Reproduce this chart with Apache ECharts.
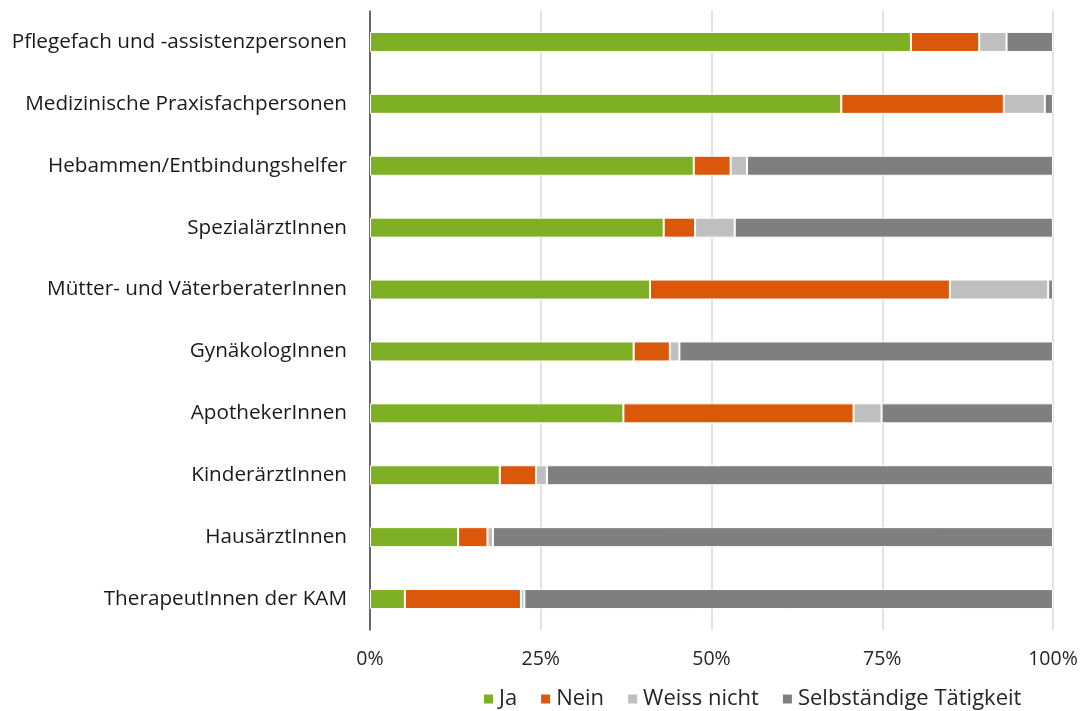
<!DOCTYPE html>
<html>
<head>
<meta charset="utf-8">
<script src="https://cdn.jsdelivr.net/npm/echarts@6/dist/echarts.min.js"></script>
<style>
  html, body { margin: 0; padding: 0; background: #fff; }
  #chart { width: 1084px; height: 711px; }
</style>
</head>
<body>
<div id="chart"></div>
<script>
// Berufsgruppen, von unten nach oben (Kategorieachse startet unten)
var categories = [
  "TherapeutInnen der KAM",
  "HausärztInnen",
  "KinderärztInnen",
  "ApothekerInnen",
  "GynäkologInnen",
  "Mütter- und VäterberaterInnen",
  "SpezialärztInnen",
  "Hebammen/Entbindungshelfer",
  "Medizinische Praxisfachpersonen",
  "Pflegefach und -assistenzpersonen"
];
var ja = [5.1, 12.9, 19.0, 37.1, 38.6, 41.0, 43.0, 47.4, 69.0, 79.2];
var nein = [17.0, 4.3, 5.3, 33.7, 5.3, 43.9, 4.6, 5.4, 23.8, 10.0];
var weissNicht = [0.5, 0.8, 1.6, 4.1, 1.4, 14.4, 5.8, 2.4, 6.0, 4.0];
var selbstaendig = [77.4, 82.0, 74.1, 25.1, 54.7, 0.7, 46.6, 44.8, 1.2, 6.8];
var seriesNames = ["Ja", "Nein", "Weiss nicht", "Selbständige Tätigkeit"];
var colors = ["#7eaf24", "#db570a", "#bfbfbf", "#7f7f7f"];

var font = "'Open Sans', sans-serif";
var chart = echarts.init(document.getElementById("chart"));

function bar(name, data) {
  return {
    name: name,
    type: "bar",
    stack: "total",
    barWidth: 20,
    itemStyle: { borderColor: "#fff", borderWidth: 1 },
    data: data
  };
}

var option = {
  animation: false,
  color: colors,
  textStyle: { fontFamily: font },
  grid: { left: 370, right: 31, top: 11, bottom: 81, containLabel: false },
  legend: {
    top: 688,
    left: 482,
    padding: 0,
    itemWidth: 11,
    itemHeight: 11,
    itemGap: 22,
    icon: "rect",
    textStyle: { fontSize: 22, color: "#262626", fontFamily: font },
    data: seriesNames
  },
  xAxis: {
    type: "value",
    min: 0,
    max: 100,
    interval: 25,
    axisLabel: {
      formatter: "{value}%",
      fontSize: 19.5,
      color: "#262626",
      margin: 19,
      fontFamily: font
    },
    axisLine: { show: false },
    axisTick: { show: false },
    splitLine: { lineStyle: { color: "#d9d9d9", width: 1.5 } }
  },
  yAxis: {
    type: "category",
    data: categories,
    axisLine: { show: true, lineStyle: { color: "#404040", width: 1.5 } },
    axisTick: { show: false },
    axisLabel: { fontSize: 20.7, color: "#1a1a1a", margin: 23, fontFamily: font }
  },
  series: [
    bar(seriesNames[0], ja),
    bar(seriesNames[1], nein),
    bar(seriesNames[2], weissNicht),
    bar(seriesNames[3], selbstaendig)
  ]
};

chart.setOption(option);
</script>
</body>
</html>
